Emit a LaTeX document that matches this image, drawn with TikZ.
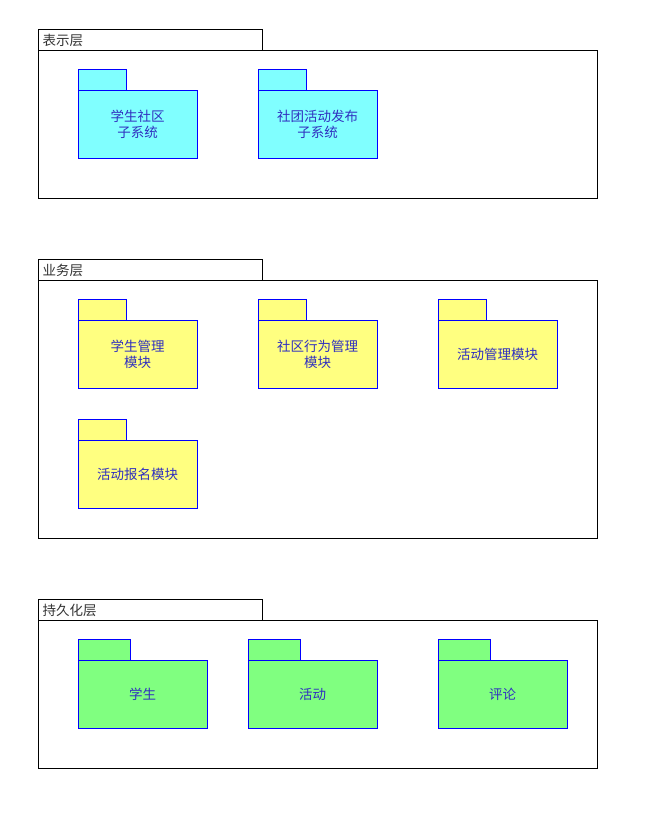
\documentclass[tikz,border=0pt]{standalone}
\usepackage{fontspec}
\newfontfamily\cjk{Noto Sans CJK SC}
\definecolor{pkgcyan}{HTML}{80FFFF}
\definecolor{pkgyellow}{HTML}{FFFF80}
\definecolor{pkggreen}{HTML}{80FF80}
\definecolor{pkgblue}{HTML}{0000FF}
\definecolor{txtblue}{HTML}{3030C0}
\definecolor{lbl}{HTML}{333333}
\begin{document}
\begin{tikzpicture}[x=1pt,y=-1pt,
  layerbox/.style={draw=black, line width=0.8pt, fill=white},
  pkgbox/.style={draw=pkgblue, line width=0.8pt},
  pkgtext/.style={text=txtblue, font=\cjk\fontsize{13.5}{16}\selectfont, align=center},
  layertext/.style={text=lbl, font=\cjk\fontsize{13.5}{16}\selectfont, anchor=west}
]
\useasboundingbox (0,0) rectangle (651,824);
% package macro: #1 x-left, #2 y tab top, #3 body width, #4 tab width, #5 fill, #6 name, #7 text
\newcommand{\pkg}[7]{%
  \draw[pkgbox, fill=#5] (#1,#2) rectangle ++(#4,21);
  \draw[pkgbox, fill=#5] (#1,#2+21) rectangle ++(#3,68);
  \node[pkgtext] (#6) at (#1+#3/2,#2+21+34) {#7};
}
\newcommand{\layer}[4]{%
  \draw[layerbox] (38,#1) rectangle (262,#1+21);
  \draw[layerbox] (38,#1+21) rectangle (597,#1+21+#2);
  \node[layertext] (#3) at (39,#1+11) {#4};
}
% Layer 1
\layer{29}{148}{l1}{表示层}
\pkg{78}{69}{119}{48}{pkgcyan}{p11}{学生社区\\子系统}
\pkg{258}{69}{119}{48}{pkgcyan}{p12}{社团活动发布\\子系统}
% Layer 2
\layer{259}{258}{l2}{业务层}
\pkg{78}{299}{119}{48}{pkgyellow}{p21}{学生管理\\模块}
\pkg{258}{299}{119}{48}{pkgyellow}{p22}{社区行为管理\\模块}
\pkg{438}{299}{119}{48}{pkgyellow}{p23}{活动管理模块}
\pkg{78}{419}{119}{48}{pkgyellow}{p24}{活动报名模块}
% Layer 3
\layer{599}{148}{l3}{持久化层}
\pkg{78}{639}{129}{52}{pkggreen}{p31}{学生}
\pkg{248}{639}{129}{52}{pkggreen}{p32}{活动}
\pkg{438}{639}{129}{52}{pkggreen}{p33}{评论}
\end{tikzpicture}
\end{document}
